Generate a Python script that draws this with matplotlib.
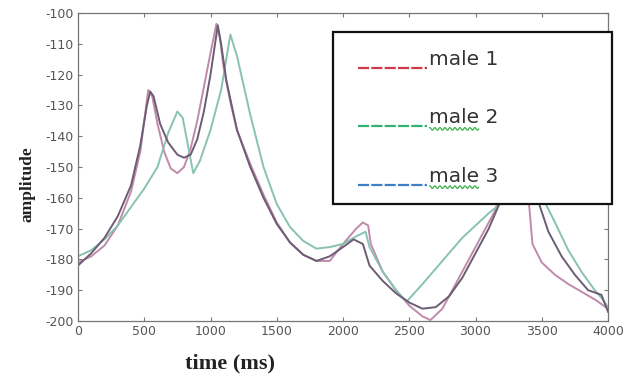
import numpy as np
import matplotlib
matplotlib.use("Agg")
import matplotlib.pyplot as plt
from matplotlib.lines import Line2D
from matplotlib.legend_handler import HandlerLine2D
from matplotlib.transforms import IdentityTransform

plt.rcParams['axes.unicode_minus'] = False

# ---------------- data ----------------
t1 = [0, 100, 200, 300, 400, 470, 530, 560, 600, 650, 700, 750, 800, 850, 900, 950,
      1000, 1045, 1070, 1100, 1150, 1200, 1300, 1400, 1500, 1600, 1700, 1800, 1900,
      2000, 2100, 2150, 2190, 2210, 2300, 2400, 2500, 2600, 2660, 2750, 2850, 2950,
      3050, 3150, 3250, 3330, 3380, 3430, 3500, 3600, 3700, 3800, 3900, 4000]
male1 = [-181, -179, -175.5, -169, -158, -145, -125, -127, -136, -145, -150.5, -152, -150,
         -144, -135, -124, -113, -103.5, -108, -118, -129, -138, -149, -159, -168, -174.5,
         -178.5, -180.5, -180.5, -175, -170, -168, -169, -175, -184, -190, -195, -198.5,
         -199.7, -196, -188, -180, -172, -164, -150, -132, -150, -175, -181, -185, -188,
         -190.5, -193, -196]

t2 = [0, 100, 200, 300, 400, 500, 600, 680, 750, 790, 830, 870, 920, 1000, 1080, 1150,
      1200, 1300, 1400, 1500, 1600, 1700, 1800, 1900, 2000, 2100, 2170, 2200, 2300, 2400,
      2480, 2600, 2700, 2800, 2900, 3000, 3100, 3200, 3300, 3400, 3460, 3530, 3600, 3700,
      3800, 3900, 3960, 4000]
male2 = [-179, -177, -173.5, -169, -163, -157, -150, -139, -132, -134, -143, -152, -148,
         -138, -125, -107, -114, -133, -150, -162, -169.5, -174, -176.5, -176, -175, -172.5,
         -171, -176, -184, -190, -193.7, -188, -183, -178, -173, -169, -165, -161.5, -140,
         -128, -145, -162, -168, -177, -184, -190, -193, -195.5]

t3 = [0, 100, 200, 300, 400, 470, 520, 545, 570, 620, 680, 750, 800, 850, 900, 950, 1000,
      1055, 1080, 1120, 1200, 1300, 1400, 1500, 1600, 1700, 1800, 1900, 2000, 2080, 2150,
      2200, 2300, 2400, 2500, 2600, 2700, 2800, 2900, 3000, 3100, 3200, 3280, 3340, 3400,
      3480, 3550, 3650, 3750, 3850, 3950, 4000]
male3 = [-182, -178, -173, -166, -156, -143, -130, -125.5, -127, -136, -142, -146, -147,
         -146, -141, -132, -120, -104, -110, -122, -138, -150, -160, -168.5, -174.5, -178.5,
         -180.5, -179, -176, -173.5, -175, -182, -187, -191, -194, -196, -195.5, -192, -186,
         -178, -170, -160, -145, -130, -140, -162, -171, -179, -185, -190, -191.5, -197]

labels = ['male 1', 'male 2', 'male 3']
curve_colors = ['#c08aab', '#88c2b0', '#6c5d74']
legend_colors = ['#cf3a4a', '#2fb36f', '#3c7fc4']

xticks = [0, 500, 1000, 1500, 2000, 2500, 3000, 3500, 4000]
yticks = [-200, -190, -180, -170, -160, -150, -140, -130, -120, -110, -100]

# ---------------- figure ----------------
W, H = 636, 378
fig = plt.figure(figsize=(W / 100, H / 100), dpi=100)
ax = fig.add_axes([78 / W, 1 - 321 / H, 530 / W, 308 / H])

for t, y, c in zip([t1, t2, t3], [male1, male2, male3], curve_colors):
    ax.plot(t, y, color=c, lw=1.4, solid_joinstyle='round')

ax.set_xlim(0, 4000)
ax.set_ylim(-200, -100)
ax.set_xticks(xticks)
ax.set_yticks(yticks)
ax.set_xticklabels([str(v) for v in xticks])
ax.set_yticklabels([str(v) for v in yticks])
ax.tick_params(direction='in', length=3, width=0.8, top=True, right=True,
               colors='#777777', labelcolor='#555555', labelsize=9, pad=3)
for lab in ax.get_xticklabels() + ax.get_yticklabels():
    lab.set_family('DejaVu Sans')
for s in ax.spines.values():
    s.set_color('#777777')
    s.set_linewidth(0.9)

fig.text(27 / W, 1 - 184 / H, 'amplitude', rotation=90, ha='center', va='center',
         family='Liberation Serif', fontweight='bold', fontsize=12.5, color='#222222')
fig.text(230 / W, 1 - 363 / H, 'time (ms)', ha='center', va='center',
         family='Liberation Serif', fontweight='bold', fontsize=16, color='#222222')


class LowLineHandler(HandlerLine2D):
    def create_artists(self, legend, orig_handle, xdescent, ydescent, width, height,
                       fontsize, trans):
        arts = super().create_artists(legend, orig_handle, xdescent, ydescent, width,
                                      height, fontsize, trans)
        for a in arts:
            yd = np.asarray(a.get_ydata(), dtype=float)
            xd = np.asarray(a.get_xdata(), dtype=float)
            a.set_ydata(yd - 7.2)
            if xd.size >= 2:
                xd = xd.copy()
                xd[0] = xd[0] + 5.0
                a.set_xdata(xd)
        return arts


handles = [Line2D([], [], color=c, lw=1.6, linestyle=(0, (5, 1))) for c in legend_colors]
leg = fig.legend(handles, labels, loc='upper left',
                 bbox_to_anchor=(333 / W, 1 - 203 / H, 279 / W, 171 / H),
                 bbox_transform=fig.transFigure, mode='expand',
                 handler_map={Line2D: LowLineHandler()},
                 prop={'family': 'DejaVu Sans', 'size': 14.5},
                 handlelength=3.75, handletextpad=0.1, labelspacing=1.95,
                 borderpad=0.9, borderaxespad=0.0, fancybox=False, framealpha=1.0,
                 edgecolor='#111111')
leg.get_frame().set_linewidth(1.6)
for txt in leg.get_texts():
    txt.set_color('#333333')

# spell-check squiggles under the word "male" of "male 2" and "male 3"
fig.canvas.draw()
renderer = fig.canvas.get_renderer()
for txt in leg.get_texts()[1:]:
    bb = txt.get_window_extent(renderer)
    xs = np.linspace(bb.x0 + 1, bb.x0 + 0.72 * bb.width, 140)
    ys = bb.y0 - 1.5 + 1.3 * np.sin((xs - bb.x0) * 2 * np.pi / 5.0)
    fig.add_artist(Line2D(xs, ys, transform=IdentityTransform(), color='#39b04a',
                          lw=0.9, zorder=20))

fig.savefig('out.png', dpi=100)
